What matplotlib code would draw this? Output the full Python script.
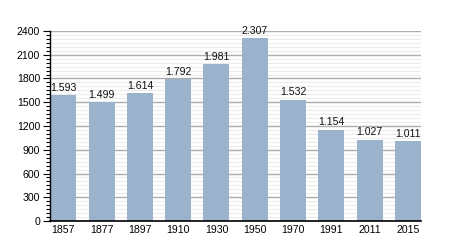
import numpy as np
import matplotlib.pyplot as plt
from matplotlib.ticker import MultipleLocator

plt.rcParams['font.family'] = ['Liberation Sans', 'DejaVu Sans']

years = ['1857', '1877', '1897', '1910', '1930', '1950', '1970', '1991', '2011', '2015']
population = [1593, 1499, 1614, 1792, 1981, 2307, 1532, 1154, 1027, 1011]
labels = ['1.593', '1.499', '1.614', '1.792', '1.981', '2.307', '1.532', '1.154', '1.027', '1.011']

fig = plt.figure(figsize=(4.5, 2.5), dpi=100)
ax = fig.add_axes([0.111, 0.116, 0.825, 0.76])

x = np.arange(len(years))
ax.bar(x, population, width=0.68, color='#9bb2cd', zorder=3)
for xi, v, lab in zip(x, population, labels):
    ax.text(xi, v + 30, lab, ha='center', va='bottom', fontsize=7.6, color='#111111')

ax.set_xlim(-0.35, 9.35)
ax.set_ylim(0, 2400)
ax.yaxis.set_major_locator(MultipleLocator(300))
ax.yaxis.set_minor_locator(MultipleLocator(50))
ax.grid(axis='y', which='major', color='#adadad', linewidth=1, zorder=0)
ax.grid(axis='y', which='minor', color='#ebebeb', linewidth=0.8, zorder=0)
ax.set_axisbelow(True)

ax.set_xticks(x)
ax.set_xticklabels(years)
ax.tick_params(axis='x', length=0, labelsize=7.6, pad=3)
ax.tick_params(axis='y', which='major', length=5, width=0.8, labelsize=7.6, pad=2)
ax.tick_params(axis='y', which='minor', length=3, width=0.8)

for s in ['top', 'right']:
    ax.spines[s].set_visible(False)
ax.spines['left'].set_linewidth(1)
ax.spines['bottom'].set_linewidth(1.2)
for s in ['left', 'bottom']:
    ax.spines[s].set_zorder(5)

fig.savefig('out.png', dpi=100)
